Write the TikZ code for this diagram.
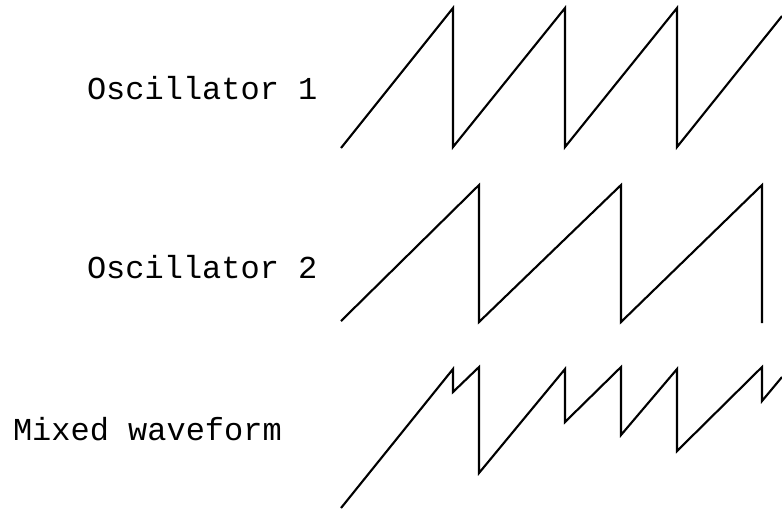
\documentclass[tikz,border=0pt]{standalone}
\usepackage{fontspec}
\setmonofont{Liberation Mono}
\begin{document}
\begin{tikzpicture}[x=0.1mm,y=-0.1mm,line width=0.6pt,
  label/.style={anchor=base west,inner sep=0pt,font=\ttfamily\fontsize{9.1}{11}\selectfont}]
\useasboundingbox (0,0) rectangle (782,509);
\node[label] (osc1) at (86,99) {Oscillator 1};
\node[label] (osc2) at (86,278) {Oscillator 2};
\node[label] (mix) at (12,440) {Mixed waveform};
% oscillator 1
\draw (341,148)--(453,8)--(453,147)--(565,8)--(565,147)--(677,8)--(677,147)--(782,16);
% oscillator 2
\draw (341,321)--(479,185)--(479,322)--(621,185)--(621,322)--(762,185)--(762,323);
% mixed
\draw (341,508)--(453,369)--(453,392)--(479,367)--(479,473)--(565,369)--(565,422)
  --(621,367)--(621,435)--(677,369)--(677,451)--(762,367)--(762,401)--(782,377);
\end{tikzpicture}
\end{document}
